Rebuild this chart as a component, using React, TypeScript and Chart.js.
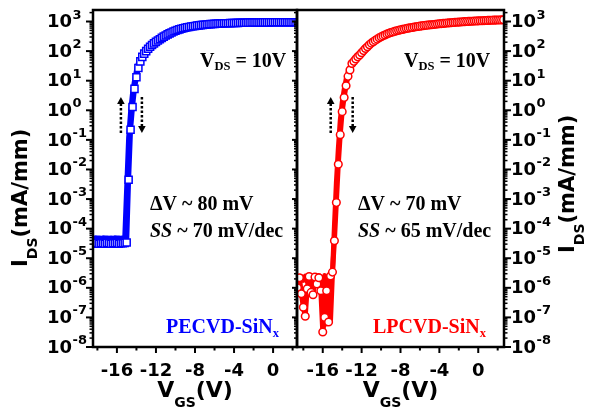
import { useEffect, useRef } from 'react';
import { Chart, registerables } from 'chart.js';
Chart.register(...registerables);

const W = 596;
const H = 409;
const SANS = '"DejaVu Sans", Arial, sans-serif';
const SERIF = '"Liberation Serif", "Times New Roman", serif';

// Gate sweep voltages (V)
const VGS = [
  -18.6, -18.4, -18.2, -18.0, -17.8, -17.6, -17.4, -17.2, -17.0, -16.8,
  -16.6, -16.4, -16.2, -16.0, -15.8, -15.6, -15.4, -15.2, -15.0, -14.8,
  -14.6, -14.4, -14.2, -14.0, -13.8, -13.6, -13.4, -13.2, -13.0, -12.8,
  -12.6, -12.4, -12.2, -12.0, -11.8, -11.6, -11.4, -11.2, -11.0, -10.8,
  -10.6, -10.4, -10.2, -10.0, -9.8, -9.6, -9.4, -9.2, -9.0, -8.8,
  -8.6, -8.4, -8.2, -8.0, -7.8, -7.6, -7.4, -7.2, -7.0, -6.8,
  -6.6, -6.4, -6.2, -6.0, -5.8, -5.6, -5.4, -5.2, -5.0, -4.8,
  -4.6, -4.4, -4.2, -4.0, -3.8, -3.6, -3.4, -3.2, -3.0, -2.8,
  -2.6, -2.4, -2.2, -2.0, -1.8, -1.6, -1.4, -1.2, -1.0, -0.8,
  -0.6, -0.4, -0.2, 0.0, 0.2, 0.4, 0.6, 0.8, 1.0, 1.2,
  1.4, 1.6, 1.8, 2.0, 2.2, 2.4, 2.6,
];

// PECVD-SiNx, forward sweep (squares), IDS in mA/mm
const PECVD_FWD = [
  3.2e-5, 3.1e-5, 3.2e-5, 3.3e-5, 3.1e-5, 3.2e-5, 3.2e-5, 3.1e-5, 3.3e-5, 3.2e-5,
  3.1e-5, 3.2e-5, 3.2e-5, 3.3e-5, 3.1e-5, 3.2e-5, 3.2e-5, 3.3e-5, 3.4e-5, 4.5e-3,
  0.22, 1.3, 5.3, 13, 27, 45, 64, 82, 100, 120,
  140, 160, 182, 205, 228, 252, 280, 308, 338, 368,
  398, 428, 458, 488, 515, 542, 568, 592, 615, 636,
  656, 675, 693, 710, 726, 741, 755, 768, 780, 791,
  805, 815, 824, 832, 840, 848, 855, 862, 868, 874,
  879, 884, 889, 893, 897, 901, 905, 908, 911, 914,
  917, 919, 921, 923, 925, 927, 929, 931, 933, 934,
  936, 937, 938, 939, 940, 941, 942, 943, 944, 945,
  946, 946, 947, 947, 948, 948, 949,
];

// PECVD-SiNx, reverse sweep
const PECVD_REV = [
  4.8e-5, 4.7e-5, 4.9e-5, 4.8e-5, 4.8e-5, 4.7e-5, 4.9e-5, 4.8e-5, 4.8e-5, 4.7e-5,
  4.8e-5, 4.7e-5, 4.9e-5, 4.8e-5, 4.8e-5, 4.7e-5, 4.9e-5, 4.8e-5, 2.5e-3, 0.12,
  0.9, 3.8, 10, 22, 40, 58, 76, 94, 110, 130,
  150, 170, 192, 215, 238, 262, 290, 318, 347, 377,
  406, 435, 464, 493, 520, 546, 571, 595, 617, 638,
  656, 675, 693, 710, 726, 741, 755, 768, 780, 791,
  805, 815, 824, 832, 840, 848, 855, 862, 868, 874,
  879, 884, 889, 893, 897, 901, 905, 908, 911, 914,
  917, 919, 921, 923, 925, 927, 929, 931, 933, 934,
  936, 937, 938, 939, 940, 941, 942, 943, 944, 945,
  946, 946, 947, 947, 948, 948, 949,
];

// LPCVD-SiNx, forward sweep (circles)
const LPCVD_FWD = [
  1.0e-6, 2.2e-6, 6.3e-7, 2.2e-7, 1.1e-7, 9.3e-7, 2.4e-6, 7.0e-7, 5.8e-7, 2.3e-6,
  1.35e-6, 2.2e-6, 8.0e-7, 3.2e-8, 1.0e-7, 8.0e-7, 7.0e-8, 2.5e-6, 3.4e-6, 3.9e-5,
  7.6e-4, 0.015, 0.15, 0.9, 2.7, 6.7, 14, 23, 38, 45,
  54, 64, 74, 88, 104, 122, 140, 163, 186, 208,
  230, 254, 280, 303, 327, 352, 378, 403, 424, 444,
  464, 484, 503, 522, 541, 560, 578, 596, 614, 631,
  648, 664, 680, 696, 712, 727, 741, 755, 769, 782,
  797, 810, 823, 836, 849, 862, 875, 888, 900, 912,
  924, 935, 946, 957, 968, 978, 988, 998, 1008, 1017,
  1026, 1035, 1043, 1051, 1059, 1067, 1075, 1082, 1089, 1096,
  1103, 1110, 1116, 1122, 1128, 1134, 1140,
];

// LPCVD-SiNx, reverse sweep
const LPCVD_REV = [
  2.0e-6, 1.5e-6, 2.4e-6, 1.8e-6, 2.5e-6, 1.6e-6, 2.2e-6, 2.6e-6, 1.9e-6, 2.5e-6,
  2.0e-6, 2.6e-6, 2.3e-6, 1.5e-7, 2.6e-6, 6.0e-8, 2.4e-6, 8.0e-8, 3.0e-6, 1.2e-4,
  3.5e-3, 0.05, 0.45, 1.8, 5, 11, 19, 29, 40, 50,
  59, 69, 80, 92, 106, 123, 141, 164, 187, 209,
  230, 254, 280, 303, 327, 352, 378, 403, 424, 444,
  464, 484, 503, 522, 541, 560, 578, 596, 614, 631,
  648, 664, 680, 696, 712, 727, 741, 755, 769, 782,
  797, 810, 823, 836, 849, 862, 875, 888, 900, 912,
  924, 935, 946, 957, 968, 978, 988, 998, 1008, 1017,
  1026, 1035, 1043, 1051, 1059, 1067, 1075, 1082, 1089, 1096,
  1103, 1110, 1116, 1122, 1128, 1134, 1140,
];

const X_MAJOR = [-16, -12, -8, -4, 0];
const X_LABELS = ['-16', '-12', '-8', '-4', '0'];
const X_MINOR = [-18, -14, -10, -6, -2, 2];
const DECADES = [-8, -7, -6, -5, -4, -3, -2, -1, 0, 1, 2, 3];
const DECADE_LABELS = ['-8', '-7', '-6', '-5', '-4', '-3', '-2', '-1', '0', '1', '2', '3'];
const MINOR_MULT = [2, 3, 4, 5, 6, 7, 8, 9];

// Hysteresis arrows [VGS, tail IDS, tip IDS]
const ARROWS_PECVD = [[-15.59, 0.17, 2.8], [-13.44, 2.8, 0.17]];
const ARROWS_LPCVD = [[-15.18, 0.17, 2.8], [-12.92, 2.8, 0.17]];

type Seg = { t: string; f: string; dy?: number };

function rich(ctx: CanvasRenderingContext2D, x: number, y: number, segs: Seg[], align: 'left' | 'center') {
  let total = 0;
  for (const s of segs) { ctx.font = s.f; total += ctx.measureText(s.t).width; }
  let cx = align === 'center' ? x - total / 2 : x;
  ctx.textAlign = 'left';
  ctx.textBaseline = 'alphabetic';
  for (const s of segs) {
    ctx.font = s.f;
    ctx.fillText(s.t, cx, y + (s.dy || 0));
    cx += ctx.measureText(s.t).width;
  }
}

function seg(ctx: CanvasRenderingContext2D, x0: number, y0: number, x1: number, y1: number) {
  ctx.beginPath(); ctx.moveTo(x0, y0); ctx.lineTo(x1, y1); ctx.stroke();
}

const panelPlugin = {
  id: 'panel',
  afterDatasetsDraw(chart: any, _args: any, o: any) {
    const { ctx, chartArea: a } = chart;
    const xs = chart.scales.x;
    const ys = chart.scales.y;
    ctx.save();
    ctx.strokeStyle = '#000';
    ctx.fillStyle = '#000';
    ctx.lineCap = 'butt';
    // frame
    ctx.lineWidth = 2.5;
    ctx.strokeRect(a.left, a.top, a.right - a.left, a.bottom - a.top);
    // x ticks
    ctx.lineWidth = 2;
    X_MAJOR.forEach((v, i) => {
      const px = xs.getPixelForValue(v);
      seg(ctx, px, a.bottom, px, a.bottom + 6);
      ctx.font = `bold 18px ${SANS}`;
      ctx.textAlign = 'center';
      ctx.textBaseline = 'alphabetic';
      ctx.fillText(X_LABELS[i], px, 376);
    });
    X_MINOR.forEach((v) => {
      const px = xs.getPixelForValue(v);
      seg(ctx, px, a.bottom, px, a.bottom + 3.5);
    });
    // y ticks
    const ax = o.side === 'left' ? a.left : a.right;
    const dir = o.side === 'left' ? -1 : 1;
    DECADES.forEach((e, i) => {
      const val = Math.pow(10, e);
      const py = ys.getPixelForValue(val);
      ctx.lineWidth = 2;
      seg(ctx, ax, py, ax + dir * 7, py);
      if (o.inner) seg(ctx, a.right, py, a.right - 5, py);
      ctx.font = `bold 18px ${SANS}`;
      ctx.textAlign = 'right';
      ctx.textBaseline = 'middle';
      ctx.fillText('10', o.tenRight, py + 1);
      ctx.font = `bold 13px ${SANS}`;
      ctx.textAlign = 'left';
      ctx.textBaseline = 'alphabetic';
      ctx.fillText(DECADE_LABELS[i], o.tenRight + 0.5, py - 3);
      ctx.lineWidth = 1.5;
      MINOR_MULT.forEach((m) => {
        const mv = m * val;
        if (mv > ys.max) return;
        const my = ys.getPixelForValue(mv);
        seg(ctx, ax, my, ax + dir * 3.5, my);
        if (o.inner) seg(ctx, a.right, my, a.right - 3, my);
      });
    });
    // axis titles
    const bigSans = `bold 22px ${SANS}`;
    const subSans = `bold 14px ${SANS}`;
    rich(ctx, (a.left + a.right) / 2, 397, [
      { t: 'V', f: bigSans }, { t: 'GS', f: subSans, dy: 10 }, { t: '(V)', f: bigSans },
    ], 'center');
    ctx.save();
    ctx.translate(o.yTitleX, o.yTitleY);
    ctx.rotate(-Math.PI / 2);
    rich(ctx, 0, 0, [
      { t: 'I', f: `bold 21px ${SANS}` }, { t: 'DS', f: subSans, dy: 10 }, { t: '(mA/mm)', f: `bold 21px ${SANS}` },
    ], 'left');
    ctx.restore();
    // annotations
    const b20 = `bold 20px ${SERIF}`;
    const b12 = `bold 12.5px ${SERIF}`;
    ctx.fillStyle = '#000';
    rich(ctx, o.vdsX, 67, [{ t: 'V', f: b20 }, { t: 'DS', f: b12, dy: 3 }, { t: ' = 10V', f: b20 }], 'left');
    rich(ctx, o.noteX, 210, [{ t: o.dv, f: b20 }], 'left');
    rich(ctx, o.noteX, 237, [{ t: 'SS', f: `italic bold 20px ${SERIF}` }, { t: o.ss, f: b20 }], 'left');
    ctx.fillStyle = o.color;
    rich(ctx, o.nameX, 333, [{ t: o.name, f: b20 }, { t: 'x', f: b12, dy: 4 }], 'left');
    // arrows
    ctx.fillStyle = '#000';
    ctx.strokeStyle = '#000';
    o.arrows.forEach((ar: number[]) => {
      const x = xs.getPixelForValue(ar[0]);
      const y0 = ys.getPixelForValue(ar[1]);
      const y1 = ys.getPixelForValue(ar[2]);
      const d = Math.sign(y1 - y0);
      const head = 7;
      ctx.lineWidth = 2.5;
      ctx.setLineDash([2.5, 2]);
      seg(ctx, x, y0, x, y1 - d * head);
      ctx.setLineDash([]);
      ctx.beginPath();
      ctx.moveTo(x, y1);
      ctx.lineTo(x - 3.8, y1 - d * head);
      ctx.lineTo(x + 3.8, y1 - d * head);
      ctx.closePath();
      ctx.fill();
    });
    ctx.restore();
  },
};

function makeChart(canvas: HTMLCanvasElement, cfg: any) {
  const pts = (ys: number[]) => VGS.map((v, i) => ({ x: v, y: ys[i] }));
  return new Chart(canvas, {
    type: 'line',
    data: {
      datasets: [
        {
          data: pts(cfg.fwd),
          borderColor: cfg.color,
          borderWidth: 5,
          borderJoinStyle: cfg.join,
          pointStyle: cfg.pointStyle,
          pointRadius: cfg.pointRadius,
          pointBorderWidth: 1.5,
          pointBackgroundColor: '#fff',
          pointBorderColor: cfg.color,
          tension: 0,
        },
        {
          data: pts(cfg.rev),
          borderColor: cfg.color,
          borderWidth: 5,
          borderJoinStyle: cfg.join,
          pointRadius: 0,
          tension: 0,
        },
      ],
    },
    options: {
      animation: false,
      responsive: false,
      events: [],
      layout: { padding: cfg.padding },
      scales: {
        x: { type: 'linear', min: cfg.xMin, max: cfg.xMax, display: false },
        y: { type: 'logarithmic', min: 1e-8, max: 2450, display: false },
      },
      plugins: {
        legend: { display: false },
        tooltip: { enabled: false },
        panel: cfg.panel,
      } as any,
    },
    plugins: [panelPlugin],
  } as any);
}

export default function App() {
  const leftRef = useRef<HTMLCanvasElement>(null);
  const rightRef = useRef<HTMLCanvasElement>(null);
  useEffect(() => {
    const c1 = makeChart(leftRef.current!, {
      fwd: PECVD_FWD, rev: PECVD_REV, color: '#0000ff', pointStyle: 'rect', pointRadius: 5, join: 'miter',
      padding: { left: 93, right: W - 297, top: 10, bottom: H - 347 },
      xMin: -18.45, xMax: 2.45,
      panel: {
        side: 'left', inner: true, tenRight: 72, yTitleX: 27, yTitleY: 267,
        vdsX: 200, noteX: 150, nameX: 166, dv: '\u0394V ~ 80 mV', ss: ' ~ 70 mV/dec',
        name: 'PECVD-SiN', color: '#0000ff', arrows: ARROWS_PECVD,
      },
    });
    const c2 = makeChart(rightRef.current!, {
      fwd: LPCVD_FWD, rev: LPCVD_REV, color: '#ff0000', pointStyle: 'circle', pointRadius: 3.8, join: 'round',
      padding: { left: 297, right: W - 504, top: 10, bottom: H - 347 },
      xMin: -18.65, xMax: 2.65,
      panel: {
        side: 'right', inner: false, tenRight: 536, yTitleX: 574, yTitleY: 253,
        vdsX: 404, noteX: 358, nameX: 373, dv: '\u0394V ~ 70 mV', ss: ' ~ 65 mV/dec',
        name: 'LPCVD-SiN', color: '#ff0000', arrows: ARROWS_LPCVD,
      },
    });
    return () => { c1.destroy(); c2.destroy(); };
  }, []);
  return (
    <div style={{ position: 'fixed', left: 0, top: 0, width: W, height: H, background: '#fff' }}>
      <canvas ref={leftRef} width={W} height={H} style={{ position: 'absolute', left: 0, top: 0 }} />
      <canvas ref={rightRef} width={W} height={H} style={{ position: 'absolute', left: 0, top: 0 }} />
    </div>
  );
}
